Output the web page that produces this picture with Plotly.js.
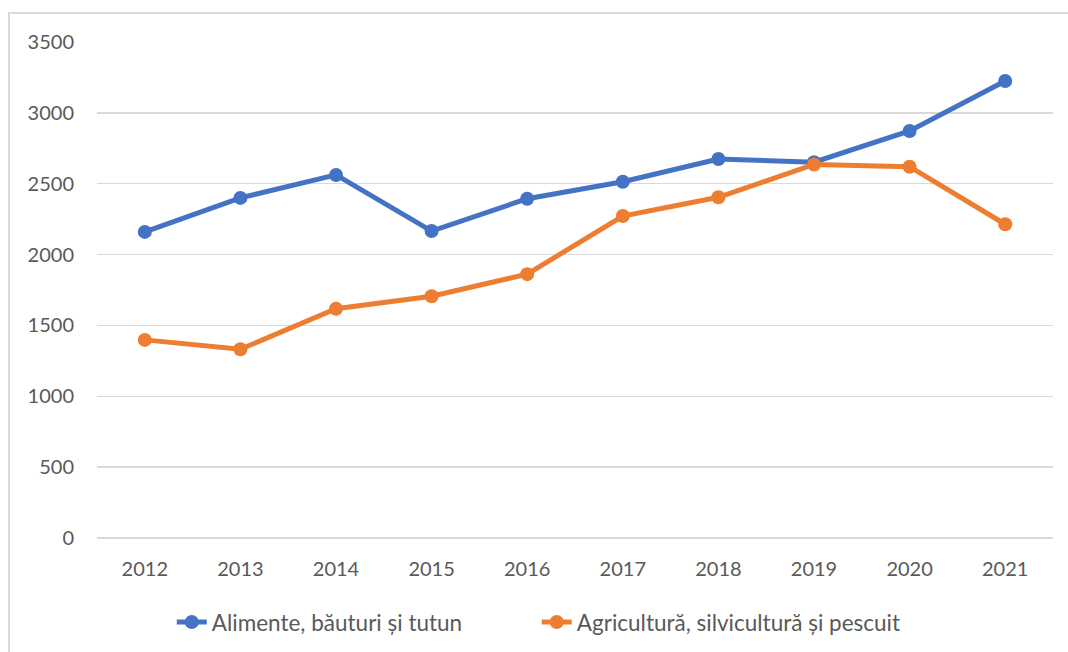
<!DOCTYPE html>
<html>
<head>
<meta charset="utf-8">
<script src="https://cdn.plot.ly/plotly-3.0.1.min.js"></script>
<style>
  html, body { margin: 0; padding: 0; background: #fff; }
  #frame { position: absolute; left: 8px; top: 12px; width: 1080px; height: 660px; border: 2px solid #d9d9d9; box-sizing: border-box; }
  #graph { position: absolute; left: 0; top: 0; width: 1068px; height: 652px; }
</style>
</head>
<body>
<div id="frame"></div>
<div id="graph"></div>
<script>
const years = ['2012', '2013', '2014', '2015', '2016', '2017', '2018', '2019', '2020', '2021'];
const alimente = [2160, 2400, 2562, 2166, 2394, 2514, 2674, 2652, 2872, 3225];
const agricultura = [1398, 1332, 1618, 1706, 1862, 2272, 2404, 2636, 2620, 2214];
const seriesNames = ['Alimente, băuturi și tutun', 'Agricultură, silvicultură și pescuit'];

const fontFamily = 'Lato, "Open Sans", sans-serif';

var trace1 = {
    x: years,
    y: alimente,
    name: seriesNames[0],
    type: 'scatter',
    mode: 'lines+markers',
    line: {color: '#4472C4', width: 5},
    marker: {color: '#4472C4', size: 14}
};

var trace2 = {
    x: years,
    y: agricultura,
    name: seriesNames[1],
    type: 'scatter',
    mode: 'lines+markers',
    line: {color: '#ED7D31', width: 5},
    marker: {color: '#ED7D31', size: 14}
};

var layout = {
    width: 1068,
    height: 652,
    margin: {l: 97, r: 15, t: 42, b: 114, autoexpand: false},
    paper_bgcolor: 'rgba(0,0,0,0)',
    plot_bgcolor: 'rgba(0,0,0,0)',
    font: {family: fontFamily, size: 20, color: '#595959'},
    showlegend: true,
    legend: {
        orientation: 'h',
        x: 0.46, xanchor: 'center',
        y: -0.17, yanchor: 'middle',
        font: {family: fontFamily, size: 22.5, color: '#595959'},
        entrywidth: 320,
        entrywidthmode: 'pixels'
    },
    xaxis: {
        type: 'category',
        range: [-0.5, 9.5],
        showgrid: false,
        showline: false,
        zeroline: false,
        ticks: '',
        ticklabelstandoff: 17,
        tickfont: {size: 20, color: '#595959'}
    },
    yaxis: {
        range: [0, 3500],
        dtick: 500,
        showgrid: true,
        gridcolor: '#d9d9d9',
        gridwidth: 1.5,
        zeroline: true,
        zerolinecolor: '#d9d9d9',
        zerolinewidth: 1.5,
        showline: false,
        ticks: '',
        ticklabelstandoff: 22,
        tickfont: {size: 20, color: '#595959'}
    }
};

Plotly.newPlot('graph', [trace1, trace2], layout, {displayModeBar: false, staticPlot: true});
</script>
</body>
</html>
